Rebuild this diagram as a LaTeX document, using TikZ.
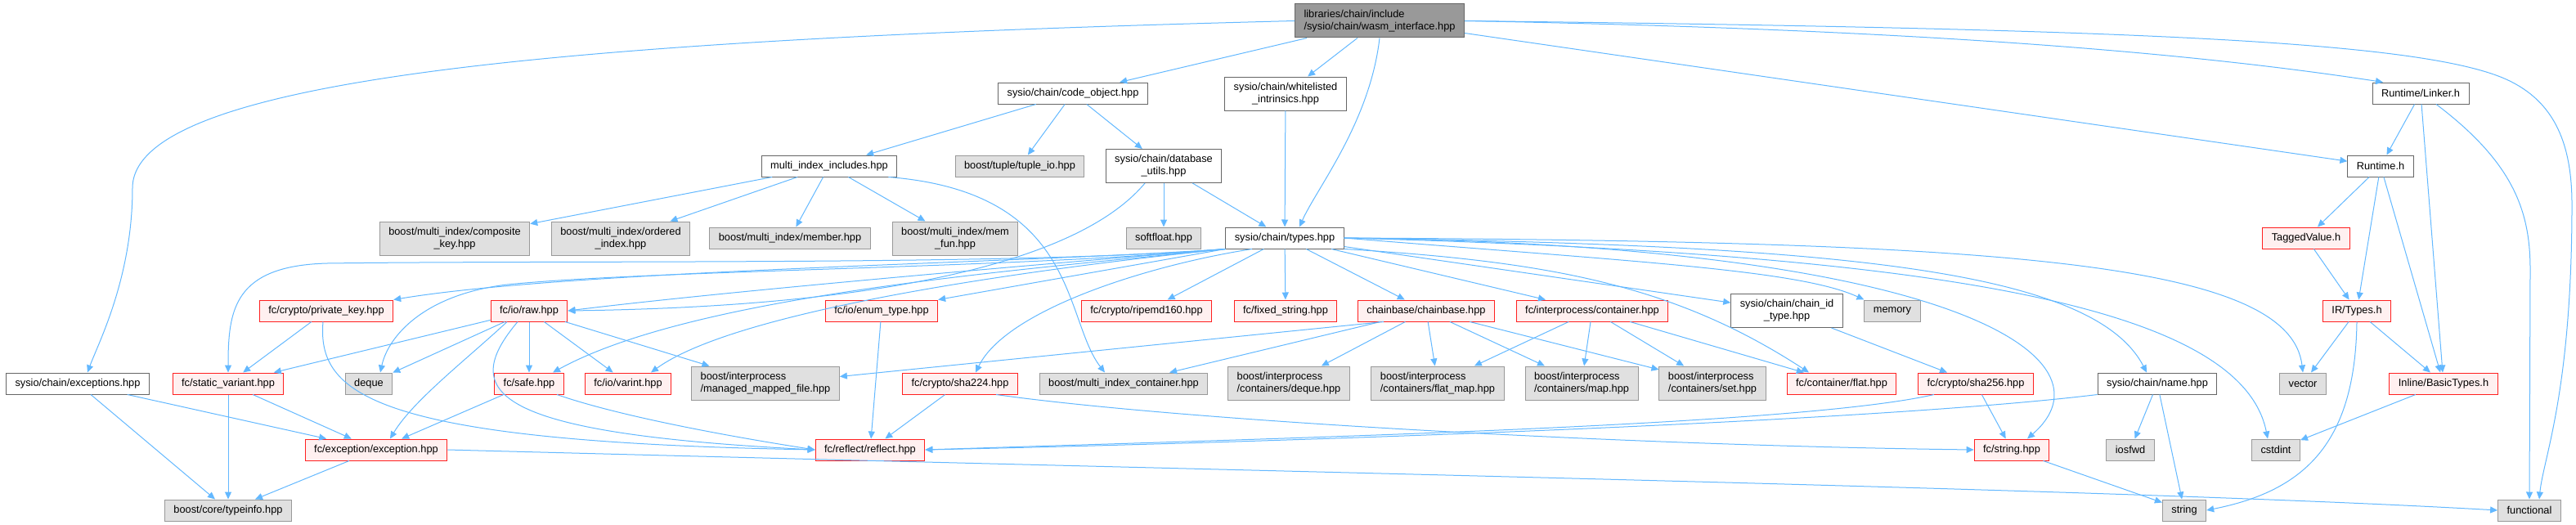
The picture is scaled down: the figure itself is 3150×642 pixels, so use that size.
\documentclass[tikz,border=0pt]{standalone}
\usepackage{fontspec}
\setmainfont{Liberation Sans}
\usetikzlibrary{arrows.meta}
\definecolor{edgeBlue}{HTML}{63B8FF}
\definecolor{lineDark}{HTML}{666666}
\definecolor{lineGray}{HTML}{999999}
\definecolor{lineRed}{HTML}{FF2020}
\definecolor{softGray}{HTML}{E0E0E0}
\definecolor{softRed}{HTML}{FFF0F0}
\definecolor{rootGray}{HTML}{999999}

\begin{document}
\begin{tikzpicture}[
        x=1pt, y=1pt,
        box/.style={rectangle, draw=lineDark, line width=1pt, fill=white, minimum height=26pt, inner xsep=11pt, inner ysep=3pt, align=center, font=\fontsize{12.8}{15}\selectfont},
        local/.style={box},
        external/.style={box, draw=lineGray, fill=softGray},
        trunc/.style={box, draw=lineRed, fill=softRed},
        main/.style={box, fill=rootGray, align=left},
        tall/.style={minimum height=41pt},
        arrow/.style={-{Triangle[length=9pt,width=8pt]}, line width=1pt, draw=edgeBlue}
      ]
        \useasboundingbox (0,0) rectangle (3150,-642);
        \node[main, tall] (root) at (1687,-25.5) {libraries/chain/include\\/sysio/chain/wasm\_interface.hpp};
        \node[local] (cobj) at (1312,-114) {sysio/chain/code\_object.hpp};
        \node[local, tall] (wlist) at (1572,-114.5) {sysio/chain/whitelisted\\\_intrinsics.hpp};
        \node[local] (linker) at (2960,-114) {Runtime/Linker.h};
        \node[local] (mii) at (1014,-203) {multi\_index\_includes.hpp};
        \node[external] (tupleio) at (1247,-203) {boost/tuple/tuple\_io.hpp};
        \node[local, tall] (dbutils) at (1423,-203) {sysio/chain/database\\\_utils.hpp};
        \node[local] (runtime) at (2911,-203) {Runtime.h};
        \node[external, tall] (compkey) at (556,-291.5) {boost/multi\_index/composite\\\_key.hpp};
        \node[external, tall] (ordidx) at (759,-291.5) {boost/multi\_index/ordered\\\_index.hpp};
        \node[external] (member) at (966,-291) {boost/multi\_index/member.hpp};
        \node[external, tall] (memfun) at (1168,-291.5) {boost/multi\_index/mem\\\_fun.hpp};
        \node[external] (softfloat) at (1423,-291) {softfloat.hpp};
        \node[local] (types) at (1571,-291) {sysio/chain/types.hpp};
        \node[trunc] (tagged) at (2820,-291) {TaggedValue.h};
        \node[trunc] (privkey) at (399,-380) {fc/crypto/private\_key.hpp};
        \node[trunc] (raw) at (647,-380) {fc/io/raw.hpp};
        \node[trunc] (enumtype) at (1078,-380) {fc/io/enum\_type.hpp};
        \node[trunc] (ripemd) at (1402,-380) {fc/crypto/ripemd160.hpp};
        \node[trunc] (fixedstr) at (1572,-380) {fc/fixed\_string.hpp};
        \node[trunc] (chainbase) at (1744,-380) {chainbase/chainbase.hpp};
        \node[trunc] (ipcont) at (1947,-380) {fc/interprocess/container.hpp};
        \node[local, tall] (chainid) at (2185,-380) {sysio/chain/chain\_id\\\_type.hpp};
        \node[external] (memory) at (2314,-380) {memory};
        \node[trunc] (irtypes) at (2882,-380) {IR/Types.h};
        \node[local] (exceptions) at (95,-469) {sysio/chain/exceptions.hpp};
        \node[trunc] (svariant) at (279,-469) {fc/static\_variant.hpp};
        \node[external] (deque) at (451,-469) {deque};
        \node[trunc] (safe) at (647,-469) {fc/safe.hpp};
        \node[trunc] (varint) at (768,-469) {fc/io/varint.hpp};
        \node[external, tall, align=left] (mmfile) at (936,-468.5) {boost/interprocess\\/managed\_mapped\_file.hpp};
        \node[trunc] (sha224) at (1174,-469) {fc/crypto/sha224.hpp};
        \node[external] (micont) at (1374,-469) {boost/multi\_index\_container.hpp};
        \node[external, tall, align=left] (ipdeque) at (1576,-468.5) {boost/interprocess\\/containers/deque.hpp};
        \node[external, tall, align=left] (ipflatmap) at (1758,-468.5) {boost/interprocess\\/containers/flat\_map.hpp};
        \node[external, tall, align=left] (ipmap) at (1934,-468.5) {boost/interprocess\\/containers/map.hpp};
        \node[external, tall, align=left] (ipset) at (2094,-468.5) {boost/interprocess\\/containers/set.hpp};
        \node[trunc] (flat) at (2252,-469) {fc/container/flat.hpp};
        \node[trunc] (sha256) at (2416,-469) {fc/crypto/sha256.hpp};
        \node[local] (name) at (2638,-469) {sysio/chain/name.hpp};
        \node[external] (vector) at (2816,-469) {vector};
        \node[trunc] (basictypes) at (2988,-469) {Inline/BasicTypes.h};
        \node[trunc] (exception) at (460,-550) {fc/exception/exception.hpp};
        \node[trunc] (reflect) at (1064,-550) {fc/reflect/reflect.hpp};
        \node[trunc] (fcstring) at (2460,-550) {fc/string.hpp};
        \node[external] (iosfwd) at (2605,-550) {iosfwd};
        \node[external] (cstdint) at (2783,-550) {cstdint};
        \node[external] (typeinfo) at (279,-624) {boost/core/typeinfo.hpp};
        \node[external] (string) at (2671,-624) {string};
        \node[external] (functional) at (3093,-624) {functional};
        \draw[arrow] (root.west) .. controls (700,-48) and (162,-95) .. (162,-230) .. controls (162,-340) and (120,-420) .. ([xshift=12pt]exceptions.north);
        \draw[arrow] (root) -- (cobj);
        \draw[arrow] (root) -- (wlist);
        \draw[arrow] (root.south) .. controls (1675,-150) and (1610,-230) .. ([xshift=18pt]types.north);
        \draw[arrow] (root.east) .. controls (2300,-35) and (2650,-60) .. ([xshift=-46pt]linker.north);
        \draw[arrow] (root) -- (runtime);
        \draw[arrow] (root.east) .. controls (2600,-35) and (2950,-50) .. (3060,-95) .. controls (3120,-120) and (3145,-170) .. (3145,-250) .. controls (3145,-480) and (3110,-560) .. ([xshift=12pt]functional.north);
        \draw[arrow] (linker) -- (runtime);
        \draw[arrow] (linker) -- (basictypes);
        \draw[arrow] ([xshift=19pt]linker.south) .. controls (3075,-200) and (3094,-260) .. (3094,-330) -- (functional.north);
        \draw[arrow] (runtime) -- (tagged);
        \draw[arrow] (runtime) -- (irtypes);
        \draw[arrow] (runtime) -- (basictypes);
        \draw[arrow] (tagged) -- (irtypes);
        \draw[arrow] (irtypes) -- (vector);
        \draw[arrow] (irtypes) -- (basictypes);
        \draw[arrow] (irtypes.south) .. controls (2880,-540) and (2820,-600) .. (string.east);
        \draw[arrow] (basictypes) -- (cstdint);
        \draw[arrow] (cobj) -- (mii);
        \draw[arrow] (cobj) -- (tupleio);
        \draw[arrow] (cobj) -- (dbutils);
        \draw[arrow] (wlist) -- (types);
        \draw[arrow] (dbutils) -- (softfloat);
        \draw[arrow] (dbutils) -- (types);
        \draw[arrow] ([xshift=-23pt]dbutils.south) .. controls (1320,-320) and (1080,-375) .. (raw.east);
        \draw[arrow] (mii) -- (compkey);
        \draw[arrow] (mii) -- (ordidx);
        \draw[arrow] (mii) -- (member);
        \draw[arrow] (mii) -- (memfun);
        \draw[arrow] ([xshift=-11pt]mii.south east) .. controls (1320,-235) and (1300,-390) .. ([xshift=-23pt]micont.north);
        \draw[arrow] (types.south west) .. controls (1250,-322) and (700,-330) .. (privkey.north east);
        \draw[arrow] (types.south west) .. controls (1250,-325) and (900,-355) .. (raw.east);
        \draw[arrow] (types.south west) .. controls (1250,-325) and (700,-318) .. (400,-322) .. controls (285,-325) and (279,-380) .. (svariant.north);
        \draw[arrow] (types.south west) .. controls (1250,-328) and (800,-330) .. (620,-348) .. controls (520,-360) and (475,-410) .. ([xshift=14pt]deque.north);
        \draw[arrow] (types.south west) .. controls (1250,-330) and (850,-360) .. ([xshift=29pt]safe.north);
        \draw[arrow] (types.south west) .. controls (1250,-330) and (900,-380) .. ([xshift=28pt]varint.north);
        \draw[arrow] (types.south west) -- (enumtype.north east);
        \draw[arrow] (types) -- (ripemd);
        \draw[arrow] (types) -- (fixedstr);
        \draw[arrow] (types) -- (chainbase);
        \draw[arrow] (types) -- (ipcont);
        \draw[arrow] (types) -- (chainid);
        \draw[arrow] (types.east) .. controls (2000,-320) and (2200,-330) .. (memory.north west);
        \draw[arrow] (types.south east) .. controls (1900,-320) and (2050,-350) .. ([xshift=-40pt]flat.north);
        \draw[arrow] (types.east) .. controls (2250,-300) and (2560,-330) .. ([xshift=-13pt]name.north);
        \draw[arrow] (types.east) .. controls (2450,-295) and (2800,-320) .. (vector.north);
        \draw[arrow] (types.east) .. controls (2350,-310) and (2740,-370) .. ([xshift=-10pt]cstdint.north);
        \draw[arrow] (types.east) .. controls (2400,-300) and (2590,-440) .. ([xshift=19pt]fcstring.north);
        \draw[arrow] ([xshift=-40pt]types.south) .. controls (1400,-325) and (1230,-380) .. ([xshift=19pt]sha224.north);
        \draw[arrow] (privkey) -- (svariant);
        \draw[arrow] ([xshift=-4pt]privkey.south) .. controls (388,-480) and (450,-540) .. (reflect.west);
        \draw[arrow] (raw) -- (svariant);
        \draw[arrow] (raw) -- (deque);
        \draw[arrow] ([xshift=-27pt]raw.south) .. controls (570,-440) and (505,-490) .. ([xshift=17pt]exception.north);
        \draw[arrow] ([xshift=-14pt]raw.south) .. controls (560,-480) and (600,-530) .. (reflect.west);
        \draw[arrow] (raw) -- (safe);
        \draw[arrow] (raw) -- (varint);
        \draw[arrow] (raw) -- (mmfile);
        \draw[arrow] (safe) -- (exception);
        \draw[arrow] ([xshift=34pt]safe.south) .. controls (760,-510) and (900,-535) .. (reflect.west);
        \draw[arrow] (svariant) -- (exception);
        \draw[arrow] (svariant) -- (typeinfo);
        \draw[arrow] (exceptions) -- (exception);
        \draw[arrow] (exceptions) -- (typeinfo);
        \draw[arrow] (exception) -- (typeinfo);
        \draw[arrow] (exception.east) .. controls (1600,-578) and (2600,-598) .. (functional.west);
        \draw[arrow] (enumtype) -- (reflect);
        \draw[arrow] (sha224) -- (reflect);
        \draw[arrow] ([xshift=44pt]sha224.south) .. controls (1450,-515) and (2000,-545) .. (fcstring.west);
        \draw[arrow] ([xshift=-52pt]chainbase.south) -- ([yshift=8pt]mmfile.east);
        \draw[arrow] (chainbase) -- (micont);
        \draw[arrow] (chainbase) -- (ipdeque);
        \draw[arrow] (chainbase) -- (ipflatmap);
        \draw[arrow] (chainbase) -- (ipmap);
        \draw[arrow] (chainbase) -- (ipset);
        \draw[arrow] (ipcont) -- (ipflatmap);
        \draw[arrow] (ipcont) -- (ipmap);
        \draw[arrow] (ipcont) -- (ipset);
        \draw[arrow] (ipcont) -- (flat);
        \draw[arrow] (chainid) -- (sha256);
        \draw[arrow] (sha256) -- (fcstring);
        \draw[arrow] ([xshift=-51pt]sha256.south) .. controls (2200,-520) and (1600,-535) .. (reflect.east);
        \draw[arrow] (name.south west) .. controls (2300,-515) and (1600,-540) .. (reflect.east);
        \draw[arrow] (name) -- (iosfwd);
        \draw[arrow] (name) -- (string);
        \draw[arrow] (fcstring) -- (string);
      \end{tikzpicture}
\end{document}
